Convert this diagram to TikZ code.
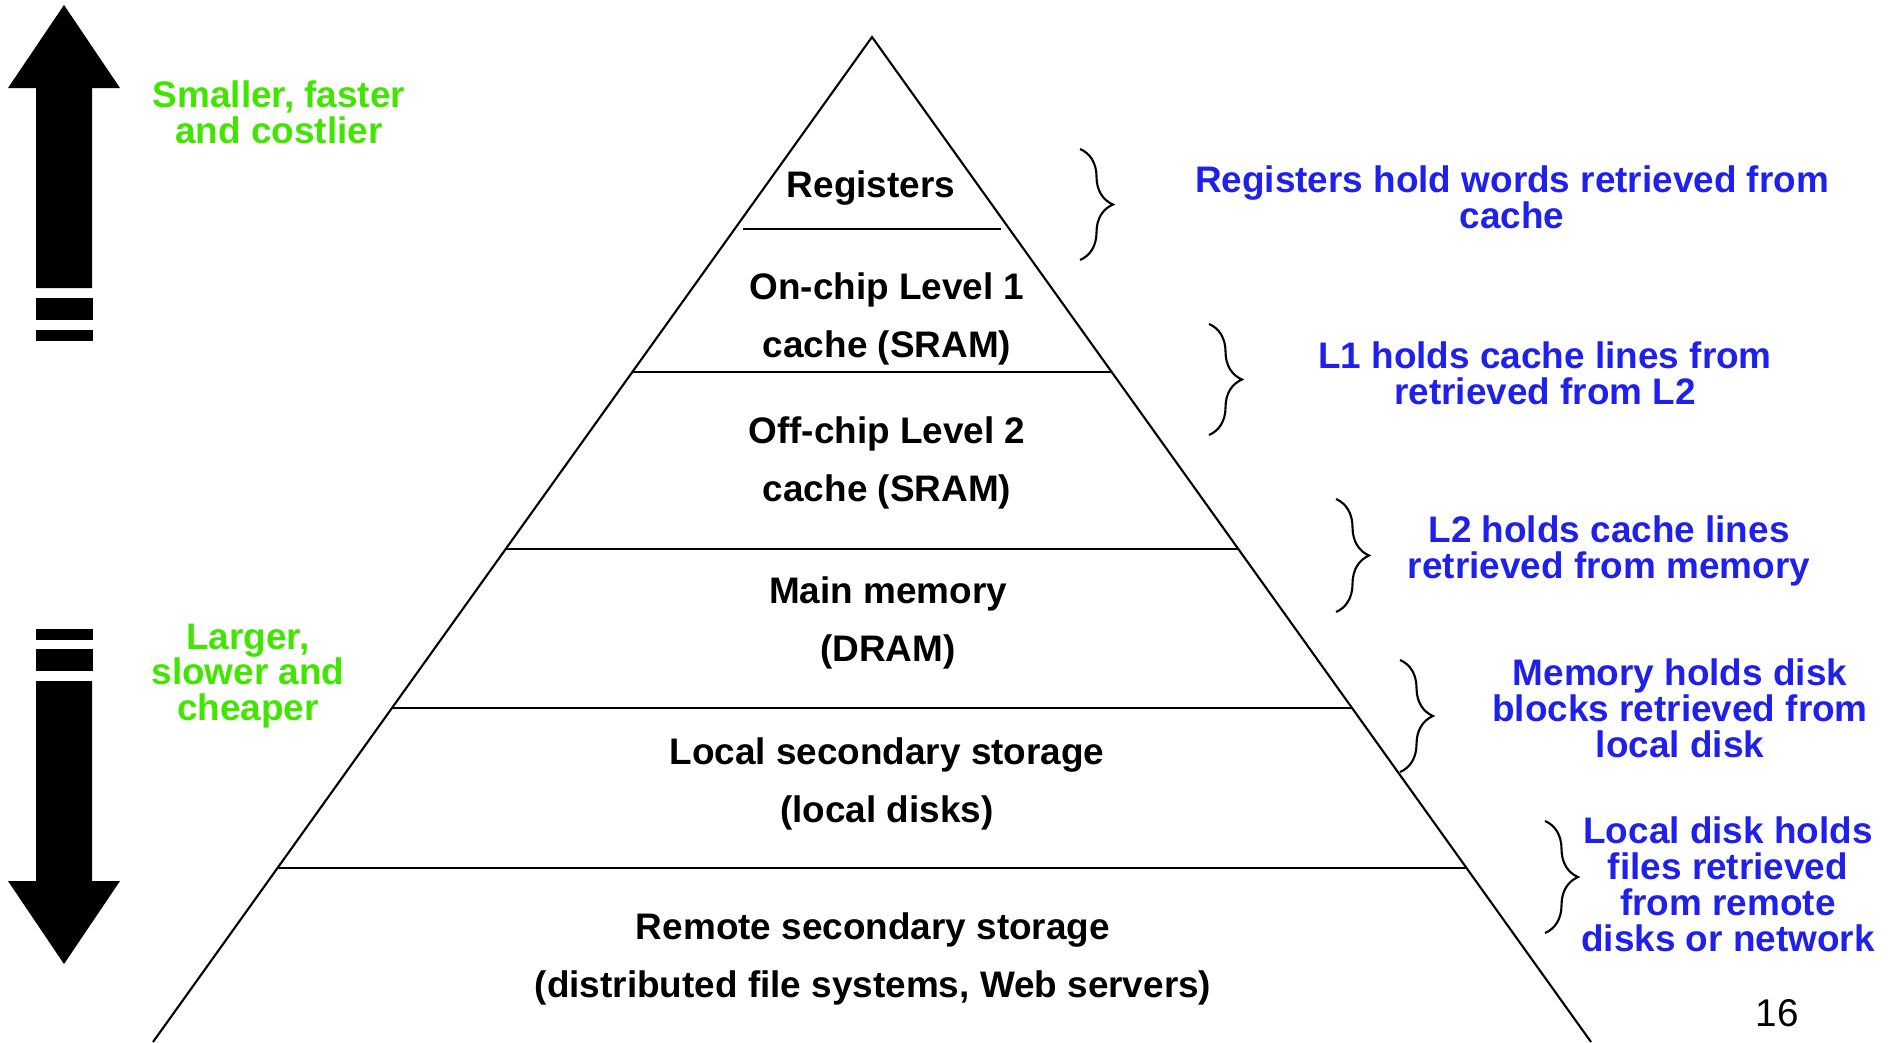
\documentclass[tikz,border=0pt]{standalone}
\usepackage{fontspec}
\setmainfont{Liberation Sans}
\usetikzlibrary{calc,decorations.pathreplacing}
\definecolor{holdblue}{RGB}{32,32,235}
\definecolor{costgreen}{RGB}{64,230,0}
\tikzset{
  level/.style={font=\bfseries\fontsize{10.5}{16.5}\selectfont, align=center, inner sep=0pt},
  holds/.style={font=\bfseries\fontsize{10.5}{10.2}\selectfont, align=center, text=holdblue, inner sep=0pt},
  cost/.style={font=\bfseries\fontsize{10.5}{10.2}\selectfont, align=center, text=costgreen, inner sep=0pt},
  holdbrace/.style={decorate, decoration={brace, amplitude=0.33cm}, line width=0.6pt}
}
\begin{document}
\begin{tikzpicture}[x=0.01cm, y=-0.01cm, line width=0.6pt]
\useasboundingbox (0,0) rectangle (1895,1042);
% pyramid
\coordinate (apex) at (872,37);
\coordinate (bl) at (153,1042);
\coordinate (br) at (1591,1042);
\draw (bl) -- (apex) -- (br);
\draw (743,229) -- (1001,229);
\foreach \t in {0.3333,0.5095,0.6677,0.8269}
  \draw ($(apex)!\t!(bl)$) -- ($(apex)!\t!(br)$);
\node[level] (reg) at (871,188) {Registers};
\node[level] (l1) at (887,319) {On-chip Level 1\\cache (SRAM)};
\node[level] (l2) at (887,463) {Off-chip Level 2\\cache (SRAM)};
\node[level] (mem) at (888,623) {Main memory\\(DRAM)};
\node[level] (disk) at (887,784) {Local secondary storage\\(local disks)};
\node[level] (remote) at (873,959) {Remote secondary storage\\(distributed file systems, Web servers)};
% braces and what each level holds
\draw[holdbrace] (1080,149) -- (1080,260);
\draw[holdbrace] (1209,324) -- (1209,435);
\draw[holdbrace] (1336,499) -- (1336,612);
\draw[holdbrace] (1400,660) -- (1400,772);
\draw[holdbrace] (1545,821) -- (1545,933);
\node[holds] (regholds) at (1512,197) {Registers hold words retrieved from\\cache};
\node[holds] (l1holds) at (1545,373) {L1 holds cache lines from\\retrieved from L2};
\node[holds] (l2holds) at (1609,551) {L2 holds cache lines\\retrieved from memory};
\node[holds] (memholds) at (1680,708) {Memory holds disk\\blocks retrieved from\\local disk};
\node[holds] (diskholds) at (1728,884) {Local disk holds\\files retrieved\\from remote\\disks or network};
% big arrows
\fill (64,5) -- (120,88) -- (92,88) -- (92,288) -- (36,288) -- (36,88) -- (8,88) -- cycle;
\fill (36,298) rectangle (93,320);
\fill (36,330) rectangle (93,341);
\fill (36,629) rectangle (93,640);
\fill (36,649) rectangle (93,671);
\fill (36,681) -- (92,681) -- (92,881) -- (120,881) -- (64,964) -- (8,881) -- (36,881) -- cycle;
\node[cost] (up) at (279,112) {Smaller, faster\\and costlier};
\node[cost] (down) at (248,676) {Larger,\\slower and\\cheaper};
\node[font=\fontsize{11}{13}\selectfont, inner sep=0pt] (page) at (1777,1013) {16};
\end{tikzpicture}
\end{document}
